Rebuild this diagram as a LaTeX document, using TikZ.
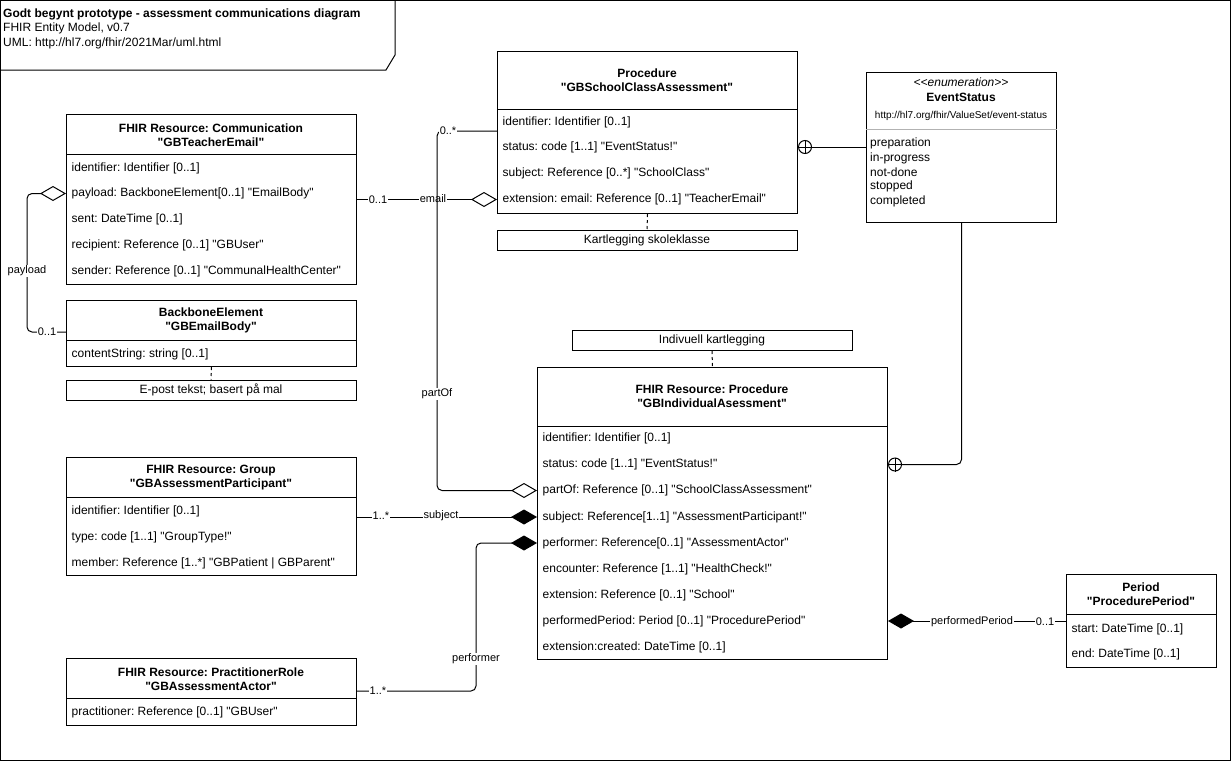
\documentclass[tikz,border=0pt]{standalone}
\usepackage{fontspec}
\setmainfont{Liberation Sans}[Ligatures=TeXOff]
\usetikzlibrary{arrows.meta}
\frenchspacing
\begin{document}
\frenchspacing
\begin{tikzpicture}[x=1pt,y=-1pt,
  cls/.style={draw, line width=1pt, anchor=north west, inner sep=0pt},
  hdr/.style={font=\fontsize{12}{14}\selectfont\bfseries, align=center, inner sep=0pt},
  row/.style={font=\fontsize{12}{14}\selectfont, anchor=west, inner xsep=5.5pt, inner ysep=0pt},
  note/.style={draw, line width=1pt, minimum height=20pt, inner sep=0pt, font=\fontsize{12}{14}\selectfont},
  lbl/.style={fill=white, inner sep=1pt, font=\fontsize{11}{13}\selectfont},
  conn/.style={line width=1pt, rounded corners=5pt},
  dashconn/.style={line width=1pt, dash pattern=on 3pt off 3pt},
  odiastart/.style={arrows={Diamond[open,length=26pt,width=15pt,line join=miter]-}},
  odiaend/.style={arrows={-Diamond[open,length=26pt,width=15pt,line join=miter]}},
  fdiastart/.style={arrows={Diamond[length=26pt,width=15pt,line join=miter]-}},
  fdiaend/.style={arrows={-Diamond[length=26pt,width=15pt,line join=miter]}},
  cplus/.style={circle, draw, line width=1pt, minimum size=13pt, inner sep=0pt, anchor=west},
  divider/.style={line width=1pt}
]
\useasboundingbox (0,0) rectangle (1231,761);
% frame
\draw[line width=1pt] (0.5,0.5) rectangle (1230.5,760.5);
\draw[line width=1pt] (0.5,70) -- (386,70) -- (395,55) -- (395,0.5);
\node[anchor=west, inner sep=0pt, font=\fontsize{12}{14}\selectfont\bfseries] (t1) at (3,14) {Godt begynt prototype - assessment communications diagram};
\node[anchor=west, inner sep=0pt, font=\fontsize{12}{14}\selectfont] (t2) at (3,28) {FHIR Entity Model, v0.7};
\node[anchor=west, inner sep=0pt, font=\fontsize{12}{14}\selectfont] (t3) at (3,43) {UML: http://hl7.org/fhir/2021Mar/uml.html};

% Communication
\node[cls, minimum width=290pt, minimum height=170pt] (comm) at (66,114) {};
\draw[divider] ([yshift=-40pt]comm.north west) -- ([yshift=-40pt]comm.north east);
\node[hdr] (comm-h) at (211,135) {FHIR Resource: Communication\\"GBTeacherEmail"};
\node[row] (comm-id) at (66,168) {identifier: Identifier [0..1]};
\node[row] (comm-payload) at (66,193.5) {payload: BackboneElement[0..1] "EmailBody"};
\node[row] (comm-sent) at (66,219.5) {sent: DateTime [0..1]};
\node[row] (comm-rec) at (66,245.5) {recipient: Reference [0..1] "GBUser"};
\node[row] (comm-send) at (66,271.5) {sender: Reference [0..1] "CommunalHealthCenter"};

% BackboneElement
\node[cls, minimum width=290pt, minimum height=66pt] (bb) at (66,300) {};
\draw[divider] ([yshift=-40pt]bb.north west) -- ([yshift=-40pt]bb.north east);
\node[hdr] (bb-h) at (211,320) {BackboneElement\\"GBEmailBody"};
\node[row] (bb-cs) at (66,354) {contentString: string [0..1]};
\node[note, minimum width=290pt] (note1) at (211,390) {E-post tekst; basert på mal};
\draw[dashconn] (bb.south) -- (note1.north);

% School class procedure
\node[cls, minimum width=300pt, minimum height=162pt] (sca) at (497,51) {};
\draw[divider] ([yshift=-58pt]sca.north west) -- ([yshift=-58pt]sca.north east);
\node[hdr] (sca-h) at (647,80) {Procedure\\"GBSchoolClassAssessment"};
\node[row] (sca-id) at (497,122) {identifier: Identifier [0..1]};
\node[row] (sca-status) at (497,147) {status: code [1..1] "EventStatus!"};
\node[row] (sca-subj) at (497,173) {subject: Reference [0..*] "SchoolClass"};
\node[row] (sca-ext) at (497,199.5) {extension: email: Reference [0..1] "TeacherEmail"};
\node[note, minimum width=300pt] (note2) at (647,240.5) {Kartlegging skoleklasse};
\draw[dashconn] (sca.south) -- (note2.north);

% EventStatus
\node[cls, minimum width=190pt, minimum height=150pt] (evs) at (866,72) {};
\draw[line width=1pt, gray!60] ([yshift=-57pt]evs.north west) -- ([yshift=-57pt]evs.north east);
\node[inner sep=0pt, font=\fontsize{12}{14}\selectfont\itshape] (evs-st) at (961,82) {<<enumeration>>};
\node[inner sep=0pt, font=\fontsize{12}{14}\selectfont\bfseries] (evs-h) at (961,97) {EventStatus};
\node[inner sep=0pt, font=\fontsize{10}{12}\selectfont] (evs-url) at (961,116) {http://hl7.org/fhir/ValueSet/event-status};
\node[row, inner xsep=4pt] (evs-1) at (866,143) {preparation};
\node[row, inner xsep=4pt] (evs-2) at (866,158) {in-progress};
\node[row, inner xsep=4pt] (evs-3) at (866,172) {not-done};
\node[row, inner xsep=4pt] (evs-4) at (866,186.5) {stopped};
\node[row, inner xsep=4pt] (evs-5) at (866,201) {completed};

% Individual procedure
\node[note, minimum width=280pt] (note3) at (712,340.5) {Indivuell kartlegging};
\node[cls, minimum width=350pt, minimum height=292pt] (ind) at (537,367) {};
\draw[divider] ([yshift=-59pt]ind.north west) -- ([yshift=-59pt]ind.north east);
\draw[dashconn] (note3.south) -- (ind.north);
\node[hdr] (ind-h) at (712,396) {FHIR Resource: Procedure\\"GBIndividualAsessment"};
\node[row] (ind-id) at (537,438.5) {identifier: Identifier [0..1]};
\node[row] (ind-status) at (537,464.5) {status: code [1..1] "EventStatus!"};
\node[row] (ind-partof) at (537,490.5) {partOf: Reference [0..1] "SchoolClassAssessment"};
\node[row] (ind-subj) at (537,517) {subject: Reference[1..1] "AssessmentParticipant!"};
\node[row] (ind-perf) at (537,543) {performer: Reference[0..1] "AssessmentActor"};
\node[row] (ind-enc) at (537,569) {encounter: Reference [1..1] "HealthCheck!"};
\node[row] (ind-ext) at (537,595) {extension: Reference [0..1] "School"};
\node[row] (ind-pp) at (537,621) {performedPeriod: Period [0..1] "ProcedurePeriod"};
\node[row] (ind-cr) at (537,647) {extension:created: DateTime [0..1]};

% Group
\node[cls, minimum width=290pt, minimum height=118pt] (grp) at (66,457) {};
\draw[divider] ([yshift=-40pt]grp.north west) -- ([yshift=-40pt]grp.north east);
\node[hdr] (grp-h) at (211,477.5) {FHIR Resource: Group\\"GBAssessmentParticipant"};
\node[row] (grp-id) at (66,511) {identifier: Identifier [0..1]};
\node[row] (grp-type) at (66,537) {type: code [1..1] "GroupType!"};
\node[row] (grp-mem) at (66,563) {member: Reference [1..*] "GBPatient | GBParent"};

% PractitionerRole
\node[cls, minimum width=290pt, minimum height=67pt] (prac) at (66,658) {};
\draw[divider] ([yshift=-40pt]prac.north west) -- ([yshift=-40pt]prac.north east);
\node[hdr] (prac-h) at (211,679) {FHIR Resource: PractitionerRole\\"GBAssessmentActor"};
\node[row] (prac-pr) at (66,712.5) {practitioner: Reference [0..1] "GBUser"};

% Period
\node[cls, minimum width=150pt, minimum height=93pt] (per) at (1066,574) {};
\draw[divider] ([yshift=-40pt]per.north west) -- ([yshift=-40pt]per.north east);
\node[hdr] (per-h) at (1141,594) {Period\\"ProcedurePeriod"};
\node[row] (per-start) at (1066,629) {start: DateTime [0..1]};
\node[row] (per-end) at (1066,654) {end: DateTime [0..1]};

% connector coordinates
\coordinate (bb-in) at (66,332);
\coordinate (partof-a) at (497,131);
\coordinate (prac-out) at (356,691);

% payload
\draw[conn, odiastart] (comm.west |- comm-payload) -- ++(-39,0) |- (bb-in);
\node[lbl] at (27,271) {payload};
\node[lbl] at (47,332) {0..1};

% email
\draw[conn, odiaend] (comm.east |- sca-ext) -- (sca.west |- sca-ext);
\node[lbl] at (378,200) {0..1};
\node[lbl] at (433,199) {email};

% partOf
\draw[conn, odiaend] (partof-a) -- ++(-60,0) |- (ind.west |- ind-partof);
\node[lbl] at (448,131) {0..*};
\node[lbl] at (437,394) {partOf};

% subject
\draw[conn, fdiaend] (grp.east |- ind-subj) -- (ind.west |- ind-subj);
\node[lbl] at (381,516) {1..*};
\node[lbl] at (441,516) {subject};

% performer
\draw[conn, fdiaend] (prac-out) -- ++(120,0) |- (ind.west |- ind-perf);
\node[lbl] at (476,659) {performer};
\node[lbl] at (378,691) {1..*};

% performedPeriod
\draw[conn, fdiastart] (ind.east |- ind-pp) -- (per.west |- ind-pp);
\node[lbl] at (972,622) {performedPeriod};
\node[lbl] at (1045,622) {0..1};

% status -> EventStatus
\node[cplus] (cp1) at (sca.east |- sca-status) {};
\draw[line width=1pt] (cp1.north) -- (cp1.south) (cp1.west) -- (cp1.east);
\draw[conn] (cp1.east) -- (evs.west |- cp1);
\node[cplus] (cp2) at (ind.east |- ind-status) {};
\draw[line width=1pt] (cp2.north) -- (cp2.south) (cp2.west) -- (cp2.east);
\draw[conn] (cp2.east) -| (evs.south);
\end{tikzpicture}
\end{document}
